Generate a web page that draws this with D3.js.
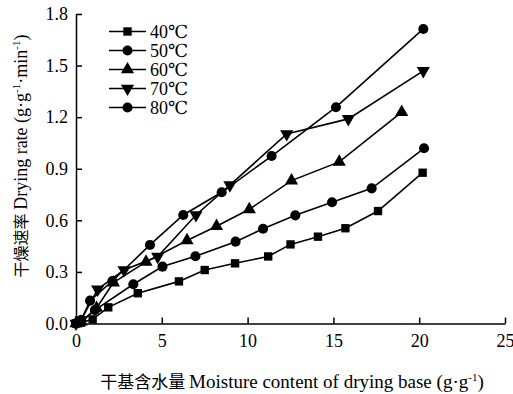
<!DOCTYPE html>
<html><head><meta charset="utf-8">
<script src="https://cdn.jsdelivr.net/npm/d3@7"></script>
<style>body{margin:0;background:#fff}svg{display:block}</style>
</head><body><svg id="c" width="513" height="394"></svg>
<script>
const seriesNames = ["40℃","50℃","60℃","70℃","80℃"];
const markers = ["square","circle","triangleUp","triangleDown","circle"];
const x40 = [0,0.3,0.97,1.88,3.6,6.0,7.5,9.27,11.2,12.5,14.1,15.7,17.6,20.2];
const y40 = [0,0.005,0.024,0.094,0.176,0.245,0.311,0.35,0.39,0.46,0.505,0.554,0.654,0.877];
const x50 = [0,0.3,1.1,3.34,5.04,6.96,9.3,10.9,12.78,14.92,17.23,20.28];
const y50 = [0,0.01,0.078,0.228,0.331,0.391,0.476,0.551,0.629,0.705,0.786,1.019];
const x60 = [0,0.3,1.2,2.18,4.08,6.47,8.19,10.1,12.56,15.34,18.98];
const y60 = [0,0.01,0.09,0.238,0.358,0.483,0.566,0.664,0.831,0.94,1.229];
const x70 = [0,0.3,1.26,2.8,4.76,6.99,8.97,12.28,15.87,20.24];
const y70 = [0,0.02,0.199,0.311,0.389,0.631,0.805,1.102,1.19,1.469];
const x80 = [0,0.3,0.82,2.12,4.31,6.25,8.49,11.4,15.15,20.24];
const y80 = [0,0.02,0.133,0.247,0.457,0.631,0.763,0.974,1.258,1.713];
const xTicks = [0,5,10,15,20,25];
const yTicks = [0,0.3,0.6,0.9,1.2,1.5,1.8];

const SERIF = '"Liberation Serif","DejaVu Serif",serif';
const CJK = '"Noto Sans CJK SC",sans-serif';
const xs = [x40,x50,x60,x70,x80], ys=[y40,y50,y60,y70,y80];
const svg = d3.select("#c");
const x = d3.scaleLinear().domain([0,25]).range([76,505]);
const y = d3.scaleLinear().domain([0,1.8]).range([323.5,14]);

const xAxis = svg.append("g").attr("transform","translate(0,323.5)")
  .call(d3.axisBottom(x).tickValues(xTicks).tickFormat(d3.format("d")).tickSizeInner(-6).tickSizeOuter(0).tickPadding(11));
const yAxis = svg.append("g").attr("transform","translate(76,0)")
  .call(d3.axisLeft(y).tickValues(yTicks).tickFormat(d3.format(".1f")).tickSizeInner(-6).tickSizeOuter(0).tickPadding(8));
[xAxis,yAxis].forEach(g=>{
  g.attr("font-family",SERIF);
  g.select(".domain").attr("stroke","#000").attr("stroke-width",1.5);
  g.selectAll(".tick line").attr("stroke","#000").attr("stroke-width",1.5);
  g.selectAll(".tick text").style("font-size","18px").style("font-family",SERIF).attr("fill","#000");
});

function sym(type){
  if(type==="square") return d3.symbol(d3.symbolSquare,70)();
  if(type==="circle") return d3.symbol(d3.symbolCircle,80)();
  return d3.symbol(d3.symbolTriangle,75)();
}
function rot(type){ return type==="triangleDown" ? " rotate(180)" : ""; }

const line = d3.line().x(d=>x(d[0])).y(d=>y(d[1]));
xs.forEach((xa,i)=>{
  const pts = xa.map((v,j)=>[v,ys[i][j]]);
  svg.append("path").attr("d",line(pts)).attr("fill","none").attr("stroke","#000").attr("stroke-width",1.6);
  svg.append("g").selectAll("path").data(pts).join("path")
    .attr("d",sym(markers[i]))
    .attr("transform",d=>`translate(${x(d[0])},${y(d[1])})${rot(markers[i])}`)
    .attr("fill","#000");
});

// legend
const leg = svg.append("g");
seriesNames.forEach((n,i)=>{
  const yy = 31.5 + i*19;
  leg.append("line").attr("x1",109).attr("x2",146).attr("y1",yy).attr("y2",yy).attr("stroke","#000").attr("stroke-width",1.6);
  leg.append("path").attr("d",sym(markers[i])).attr("transform",`translate(127.5,${yy})${rot(markers[i])}`).attr("fill","#000");
  leg.append("text").attr("x",150).attr("y",yy+6).style("font-size","18px").style("font-family",SERIF).text(n);
});

// axis titles
const xt = svg.append("text").attr("x",292).attr("y",388).attr("text-anchor","middle").style("font-size","19px").style("font-family",SERIF);
xt.append("tspan").style("font-family",CJK).style("font-size","17px").text("干基含水量 ");
xt.append("tspan").text("Moisture content of drying base (g·g");
xt.append("tspan").style("font-size","11px").attr("dy",-7).text("-1");
xt.append("tspan").attr("dy",7).text(")");

const yt = svg.append("text").attr("transform","translate(27,156) rotate(-90)").attr("text-anchor","middle").style("font-size","18px").style("font-family",SERIF);
yt.append("tspan").style("font-family",CJK).style("font-size","16px").text("干燥速率 ");
yt.append("tspan").text("Drying rate (g·g");
yt.append("tspan").style("font-size","11px").attr("dy",-7).text("-1");
yt.append("tspan").attr("dy",7).text("·min");
yt.append("tspan").style("font-size","11px").attr("dy",-7).text("-1");
yt.append("tspan").attr("dy",7).text(")");
</script></body></html>
